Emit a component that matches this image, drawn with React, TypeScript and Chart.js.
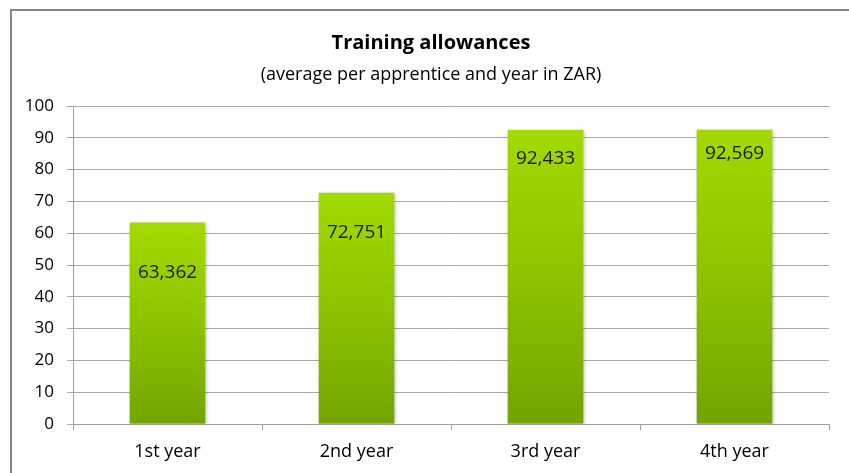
import React, { useEffect, useRef } from "react";
import { Chart, registerables } from "chart.js";

Chart.register(...registerables);

const CATEGORIES = ["1st year", "2nd year", "3rd year", "4th year"];
const ALLOWANCES = [63.362, 72.751, 92.433, 92.569];
const Y_TICKS = [0, 10, 20, 30, 40, 50, 60, 70, 80, 90, 100];
const TITLE = "Training allowances";
const SUBTITLE = "(average per apprentice and year in ZAR)";

const LABEL_DROP = [50, 40, 29, 24];
const FONT = "'Open Sans', 'Noto Sans', sans-serif";

const framePlugin = {
  id: "frame",
  beforeDraw(chart: any) {
    const c = chart.ctx;
    c.save();
    c.fillStyle = "#ffffff";
    c.fillRect(0, 0, chart.width, chart.height);
    c.strokeStyle = "#868686";
    c.lineWidth = 2;
    c.beginPath();
    c.moveTo(11, chart.height + 5);
    c.lineTo(11, 10);
    c.lineTo(chart.width + 5, 10);
    c.stroke();
    c.fillStyle = "#000";
    c.textAlign = "center";
    c.textBaseline = "middle";
    c.font = "bold 20px " + FONT;
    c.fillText(TITLE, 431, 43);
    c.font = "18px " + FONT;
    c.fillText(SUBTITLE, 431, 75);
    c.restore();
  },
  beforeDatasetsDraw(chart: any) {
    const c = chart.ctx;
    c.save();
    c.shadowColor = "rgba(0,0,0,0.28)";
    c.shadowBlur = 4;
    c.shadowOffsetX = 1;
    c.shadowOffsetY = 1;
  },
  afterDatasetsDraw(chart: any) {
    chart.ctx.restore();
    const c = chart.ctx;
    const meta = chart.getDatasetMeta(0);
    c.save();
    c.fillStyle = "#1a1a1a";
    c.textAlign = "center";
    c.textBaseline = "middle";
    c.font = "19px " + FONT;
    meta.data.forEach((bar: any, i: number) => {
      const v = ALLOWANCES[i];
      const txt = v.toFixed(3).replace(".", ",");
      c.fillText(txt, bar.x, bar.y + LABEL_DROP[i]);
    });
    c.restore();
  },
};

export default function App() {
  const ref = useRef<HTMLCanvasElement | null>(null);
  useEffect(() => {
    if (!ref.current) return;
    const chart = new Chart(ref.current, {
      type: "bar",
      data: {
        labels: CATEGORIES,
        datasets: [
          {
            data: ALLOWANCES,
            backgroundColor: (ctx: any) => {
              const ch = ctx.chart;
              const y = ch.scales?.y;
              if (!y || ctx.type !== "data") return "#8cc400";
              const top = y.getPixelForValue(ctx.raw);
              const base = y.getPixelForValue(0);
              if (!isFinite(top) || !isFinite(base) || top === base) return "#8cc400";
              const g = ch.ctx.createLinearGradient(0, top, 0, base);
              g.addColorStop(0, "#a2da00");
              g.addColorStop(0.5, "#8ec300");
              g.addColorStop(1, "#72a400");
              return g;
            },
            borderWidth: 0,
            barPercentage: 0.4,
            categoryPercentage: 1,
          },
        ],
      },
      options: {
        responsive: false,
        animation: false,
        layout: { padding: { left: 0, top: 106, right: 20, bottom: 0 } },
        plugins: {
          legend: { display: false },
          title: { display: false },
          tooltip: { enabled: false },
        },
        scales: {
          x: {
            afterFit: (s: any) => {
              s.height = 49;
            },
            grid: {
              drawOnChartArea: false,
              drawTicks: true,
              tickLength: 6,
              color: "#a0a0a0",
              offset: true,
            },
            border: { display: true, color: "#a0a0a0", width: 1 },
            ticks: {
              color: "#000",
              font: { family: FONT, size: 18 },
              padding: 11,
            },
          },
          y: {
            min: 0,
            max: 100,
            afterFit: (s: any) => {
              s.width = 73;
            },
            afterBuildTicks: (s: any) => {
              s.ticks = Y_TICKS.map((v) => ({ value: v }));
            },
            grid: {
              color: "#a8a8a8",
              tickLength: 6,
              drawTicks: true,
            },
            border: { display: true, color: "#a0a0a0", width: 1 },
            ticks: {
              color: "#000",
              font: { family: FONT, size: 17 },
              padding: 13,
            },
          },
        },
      },
      plugins: [framePlugin],
    });
    return () => chart.destroy();
  }, []);
  return (
    <div
      style={{
        position: "fixed",
        left: 0,
        top: 0,
        width: 849,
        height: 473,
        overflow: "hidden",
        background: "#fff",
      }}
    >
      <canvas ref={ref} width={849} height={473} style={{ display: "block" }} />
    </div>
  );
}
